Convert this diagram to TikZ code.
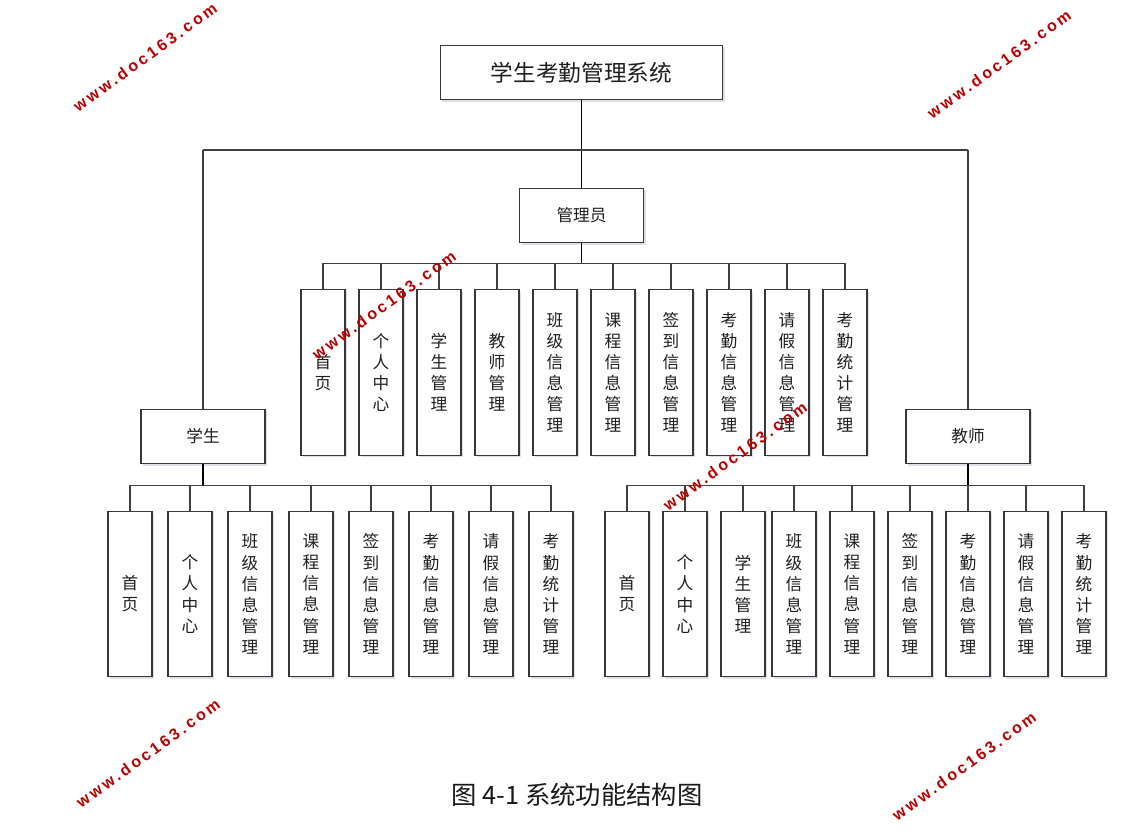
\documentclass[tikz,border=0pt]{standalone}
\usepackage{fontspec}
\newfontfamily\cjk{Noto Sans CJK SC}
\newfontfamily\wmfont[LetterSpace=19]{Liberation Sans}
\usetikzlibrary{shadows}
\begin{document}
\begin{tikzpicture}[x=0.75pt,y=-0.75pt,
  box/.style={draw=black!78, line width=0.9pt, fill=white, text=black!88,
    drop shadow={shadow xshift=1.5pt, shadow yshift=-1.5pt, fill=blue!15!gray, opacity=0.22}},
  titlebox/.style={box, minimum width=212pt, minimum height=41pt, font=\cjk\fontsize{17}{20}\selectfont},
  rolebox/.style={box, minimum width=93pt, minimum height=41pt, font=\cjk\fontsize{12.5}{15}\selectfont},
  leaf/.style={box, minimum width=33pt, minimum height=124pt, inner sep=0pt, align=center,
    font=\cjk\fontsize{12.5}{15.8}\selectfont},
  link/.style={draw=black!75, line width=0.8pt},
  trunk/.style={draw=black, line width=1.4pt},
  wm/.style={text=red!72!black, font=\wmfont\bfseries\fontsize{12}{14}\selectfont, rotate=36, inner sep=0pt}]
\useasboundingbox (0,0) rectangle (1145,831);

% top
\node[titlebox] (top) at (581.5,72.5) {学生考勤管理系统};
\node[rolebox] (admin) at (581.5,215.5) {管理员};
\node[rolebox] (stu) at (203,436.5) {学生};
\node[rolebox] (tea) at (968,436.5) {教师};

% admin leaves
\node[leaf] (a1) at (323,372.5) {首\\页};
\node[leaf] (a2) at (381,372.5) {个\\人\\中\\心};
\node[leaf] (a3) at (439,372.5) {学\\生\\管\\理};
\node[leaf] (a4) at (497,372.5) {教\\师\\管\\理};
\node[leaf] (a5) at (555,372.5) {班\\级\\信\\息\\管\\理};
\node[leaf] (a6) at (613,372.5) {课\\程\\信\\息\\管\\理};
\node[leaf] (a7) at (671,372.5) {签\\到\\信\\息\\管\\理};
\node[leaf] (a8) at (729,372.5) {考\\勤\\信\\息\\管\\理};
\node[leaf] (a9) at (787,372.5) {请\\假\\信\\息\\管\\理};
\node[leaf] (a10) at (845,372.5) {考\\勤\\统\\计\\管\\理};

% student leaves
\node[leaf] (s1) at (130,594) {首\\页};
\node[leaf] (s2) at (190,594) {个\\人\\中\\心};
\node[leaf] (s3) at (250,594) {班\\级\\信\\息\\管\\理};
\node[leaf] (s4) at (311,594) {课\\程\\信\\息\\管\\理};
\node[leaf] (s5) at (371,594) {签\\到\\信\\息\\管\\理};
\node[leaf] (s6) at (431,594) {考\\勤\\信\\息\\管\\理};
\node[leaf] (s7) at (491,594) {请\\假\\信\\息\\管\\理};
\node[leaf] (s8) at (551,594) {考\\勤\\统\\计\\管\\理};

% teacher leaves
\node[leaf] (t1) at (627,594) {首\\页};
\node[leaf] (t2) at (685,594) {个\\人\\中\\心};
\node[leaf] (t3) at (743,594) {学\\生\\管\\理};
\node[leaf] (t4) at (794,594) {班\\级\\信\\息\\管\\理};
\node[leaf] (t5) at (852,594) {课\\程\\信\\息\\管\\理};
\node[leaf] (t6) at (910,594) {签\\到\\信\\息\\管\\理};
\node[leaf] (t7) at (968,594) {考\\勤\\信\\息\\管\\理};
\node[leaf] (t8) at (1026,594) {请\\假\\信\\息\\管\\理};
\node[leaf] (t9) at (1084,594) {考\\勤\\统\\计\\管\\理};

% trunk connectors
\coordinate (jl) at (203,150);
\coordinate (jr) at (968,150);
\draw[trunk] (top.south) -- (admin.north);
\draw[link] (jl) -- (jr);
\draw[link] (jl) -- (stu.north);
\draw[link] (jr) -- (tea.north);

% admin bus
\draw[trunk] (admin.south) -- ++(0,21);
\draw[link] (a1.north) -- ++(0,-26) -| (a10.north);
\foreach \i in {2,...,9} \draw[link] (a\i.north) -- ++(0,-26);

% student bus
\draw[trunk] (stu.south) -- ++(0,22);
\draw[link] (s1.north) -- ++(0,-25) -| (s8.north);
\foreach \i in {2,...,7} \draw[link] (s\i.north) -- ++(0,-25);

% teacher bus
\draw[trunk] (tea.south) -- ++(0,22);
\draw[link] (t1.north) -- ++(0,-25) -| (t9.north);
\foreach \i in {2,...,8} \draw[link] (t\i.north) -- ++(0,-25);

% caption
\node[font=\cjk\fontsize{19}{22}\selectfont, text=black!90] (cap) at (577,795) {图 4-1 系统功能结构图};

% watermarks
\node[wm] (w1) at (145,57) {www.doc163.com};
\node[wm] (w2) at (999,64) {www.doc163.com};
\node[wm] (w3) at (384,305) {www.doc163.com};
\node[wm] (w4) at (735,456) {www.doc163.com};
\node[wm] (w5) at (148,753) {www.doc163.com};
\node[wm] (w6) at (964,766) {www.doc163.com};
\end{tikzpicture}
\end{document}
